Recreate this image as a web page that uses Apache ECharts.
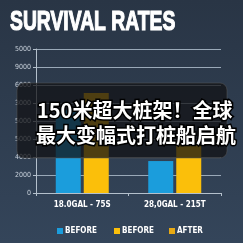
<!DOCTYPE html>
<html><head><meta charset="utf-8">
<script src="https://cdn.jsdelivr.net/npm/echarts@6/dist/echarts.min.js"></script>
<style>html,body{margin:0;padding:0;background:#2c3949;}#c{width:243px;height:243px;}</style>
</head><body><div id="c"></div>
<script>
const categories = ['18.0GAL - 75S', '28,0GAL - 215T'];
const seriesNames = ['BEFORE', 'BEFORE ', 'AFTER'];
const blueBefore = [9200, 3550];
const yellowBefore = [11100, 5900];
const after = [];
const yTickLabels = ['0', '2000', '4000', '5000', '5000', '3000', '6000', '9000', '5000'];
const titleText = 'SURVIVAL RATES';
const overlayLines = ['150米超大桩架！全球', '最大变幅式打桩船启航'];

const chart = echarts.init(document.getElementById('c'), null, {renderer: 'canvas'});
const narrow = '"DejaVu Sans Condensed", "DejaVu Sans", sans-serif';
const legendLeft = [57, 114, 169];
chart.setOption({
  backgroundColor: new echarts.graphic.LinearGradient(0, 0, 0, 1, [
    {offset: 0, color: '#293545'}, {offset: 1, color: '#34455a'}]),
  animation: false,
  grid: {left: 36, right: 22, top: 49, bottom: 50},
  xAxis: {
    type: 'category', data: categories,
    axisLine: {lineStyle: {color: '#b4c0cc', width: 1}},
    axisTick: {show: true, length: 3, lineStyle: {color: '#b4c0cc'}},
    axisLabel: {color: '#ffffff', fontFamily: narrow, fontWeight: 'bold', fontSize: 8, margin: 8}
  },
  yAxis: {
    type: 'value', min: 0, max: 16000, interval: 2000,
    axisLine: {show: true, lineStyle: {color: '#b4c0cc', width: 1}},
    axisTick: {show: true, length: 3, lineStyle: {color: '#b4c0cc'}},
    axisLabel: {color: '#c9d2dc', fontSize: 7, fontFamily: narrow, margin: 5,
      formatter: v => yTickLabels[Math.round(v / 2000)] || ''},
    splitLine: {lineStyle: {color: '#9aa9b8', width: 1}}
  },
  legend: seriesNames.map((n, i) => ({
    data: [{name: n}], left: legendLeft[i], top: 227, padding: 0,
    icon: 'rect', itemWidth: 6, itemHeight: 6,
    textStyle: {color: '#ffffff', fontFamily: narrow, fontWeight: 'bold', fontSize: 8, padding: [0,0,0,-3]}
  })),
  series: [
    {name: seriesNames[0], type: 'bar', data: blueBefore, barWidth: 25, barGap: '12%', itemStyle: {color: '#1b9ddc'}},
    {name: seriesNames[1], type: 'bar', data: yellowBefore, barWidth: 25, stack: 'y', itemStyle: {color: '#fbbf0a'}},
    {name: seriesNames[2], type: 'bar', data: after, barWidth: 25, stack: 'y', itemStyle: {color: '#e7a913'}}
  ],
  graphic: [
    {type: 'text', x: 10, y: 22, scaleX: 0.69, scaleY: 1, originX: 0, originY: 0,
      style: {x: 0, y: 0, text: titleText, fill: '#ffffff', stroke: '#ffffff', lineWidth: 1.2,
      font: 'bold 28px "Liberation Sans", Arial, sans-serif', verticalAlign: 'middle'}},
    {type: 'rect', shape: {x: 17, y: 83, width: 210, height: 75, r: 7},
      style: {fill: 'rgba(18,18,20,0.74)', stroke: 'rgba(90,90,90,0.5)', lineWidth: 1}, z: 100},
    {type: 'text', x: 37, y: 110, z: 101, style: {text: overlayLines[0], fill: '#ffffff',
      font: 'bold 20px "Noto Sans CJK SC", sans-serif', verticalAlign: 'middle',
      stroke: '#000000', lineWidth: 3, shadowBlur: 2, shadowColor: 'rgba(0,0,0,0.8)'}},
    {type: 'text', x: 36, y: 135, z: 101, style: {text: overlayLines[1], fill: '#ffffff',
      font: 'bold 20px "Noto Sans CJK SC", sans-serif', verticalAlign: 'middle',
      stroke: '#000000', lineWidth: 3, shadowBlur: 2, shadowColor: 'rgba(0,0,0,0.8)'}}
  ]
});
</script></body></html>
